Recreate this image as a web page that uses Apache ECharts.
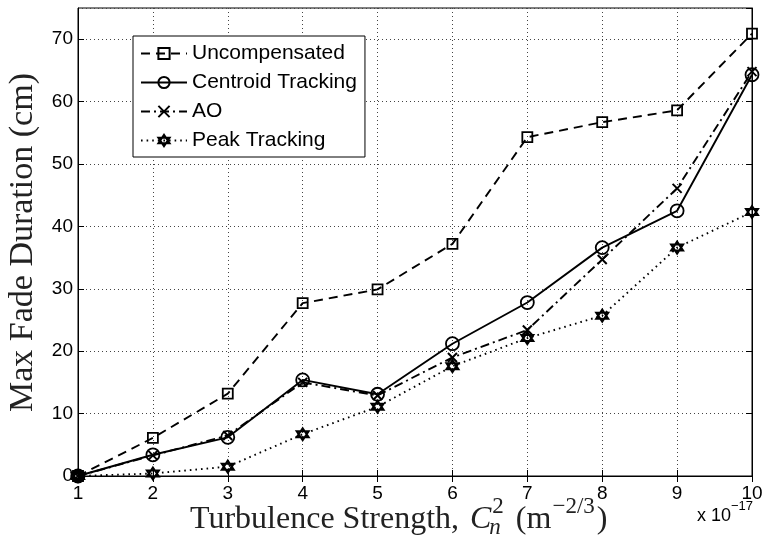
<!DOCTYPE html>
<html><head><meta charset="utf-8">
<script src="https://cdn.jsdelivr.net/npm/echarts@6/dist/echarts.min.js"></script>
<style>html,body{margin:0;padding:0;background:#fff}#c{width:766px;height:546px}</style>
</head><body><div id="c"></div>
<script>
// ---- data ----
const xValues = [1, 2, 3, 4, 5, 6, 7, 8, 9, 10];
const uncompensated = [0, 6.1, 13.2, 27.7, 29.9, 37.2, 54.3, 56.7, 58.6, 70.9];
const centroid = [0, 3.4, 6.2, 15.4, 13.1, 21.2, 27.8, 36.6, 42.5, 64.3];
const ao = [0, 3.3, 6.5, 15.0, 12.9, 19.0, 23.4, 34.7, 46.1, 64.8];
const peak = [0, 0.4, 1.5, 6.7, 11.1, 17.6, 22.1, 25.7, 36.6, 42.3];
const seriesNames = ['Uncompensated', 'Centroid Tracking', 'AO', 'Peak Tracking'];
const yTicks = [0, 10, 20, 30, 40, 50, 60, 70];

const pairs = arr => xValues.map((x, i) => [x, arr[i]]);
const chart = echarts.init(document.getElementById('c'), null, {renderer: 'canvas'});

const SANS = '"Liberation Sans", Arial, sans-serif';
const SERIF = '"Liberation Serif", "Times New Roman", serif';
const xPath = 'path://M0,0L10,10M10,0L0,10';
const hexPath = 'path://M5,0L9.33,7.5L0.67,7.5Z M5,10L0.67,2.5L9.33,2.5Z';

function mkSeries(name, data, symbol, size, dash, bw) {
  return {
    name, type: 'line', data: pairs(data), symbol, symbolSize: size,
    showSymbol: true, animation: false,
    lineStyle: {color: '#000', width: 1.9, type: dash},
    itemStyle: {color: 'transparent', borderColor: '#000', borderWidth: bw},
    emphasis: {disabled: true}
  };
}

// ---- title text pieces (positions are layout only) ----
const ctx = document.createElement('canvas').getContext('2d');
function tw(text, font) { ctx.font = font; return ctx.measureText(text).width; }
const BIG = 32, SM = 23;
const fMain = BIG + 'px ' + SERIF, fIt = 'italic ' + BIG + 'px ' + SERIF, fSm = SM + 'px ' + SERIF;
const graphics = [];
function putText(text, x, baseline, size, italic, family, color) {
  graphics.push({type: 'text', x: x, y: baseline - size * 0.34, silent: true,
    style: {text, fontSize: size, fontStyle: italic ? 'italic' : 'normal', fontFamily: family,
      fill: color || '#222', verticalAlign: 'middle', align: 'left'}});
}
const xb = 530;
let cx = 190;
const p1 = 'Turbulence Strength,';
putText(p1, cx, xb, BIG, false, SERIF); cx += tw(p1, fMain) + 11;
putText('C', cx, xb, BIG, true, SERIF); cx += tw('C', fIt) + 1;
putText('2', cx, xb - 15, SM, false, SERIF);
putText('n', cx - 3, xb + 6, SM, true, SERIF);
cx += tw('2', fSm) + 12;
putText('(m', cx, xb, BIG, false, SERIF); cx += tw('(m', fMain) + 1;
putText('\u22122/3', cx, xb - 15, SM, false, SERIF); cx += tw('\u22122/3', fSm) + 2;
putText(')', cx, xb, BIG, false, SERIF);

// exponent note
putText('x 10', 697, 522, 18, false, SANS, '#000');
putText('\u221217', 697 + tw('x 10', '18px ' + SANS), 511, 13, false, SANS, '#000');

// y title
graphics.push({type: 'text', x: 23.5, y: 242.5, rotation: Math.PI / 2, silent: true,
  style: {text: 'Max Fade Duration (cm)', fontSize: 34, fontFamily: SERIF, fill: '#222',
    align: 'center', verticalAlign: 'middle'}});

const splitStyle = {color: '#444', width: 1, type: [1, 3]};
const option = {
  animation: false,
  backgroundColor: '#fff',
  grid: {left: 78, right: 14, top: 8, bottom: 70, show: true, borderColor: '#000', borderWidth: 1, backgroundColor: 'transparent'},
  legend: {
    data: seriesNames, orient: 'vertical', left: 133, top: 36,
    padding: [7, 8, 6, 7], itemGap: 8, itemWidth: 46, itemHeight: 14,
    borderColor: '#000', borderWidth: 1, backgroundColor: '#fff', borderRadius: 0,
    selectedMode: false,
    textStyle: {fontFamily: SANS, fontSize: 21, color: '#000', lineHeight: 20}
  },
  xAxis: [
    {type: 'value', min: 1, max: 10, interval: 1, position: 'bottom',
      axisLine: {show: true, lineStyle: {color: '#000', width: 1}},
      axisTick: {show: true, inside: true, length: 6, lineStyle: {color: '#000'}},
      axisLabel: {fontFamily: SANS, fontSize: 19, color: '#000', margin: 8},
      splitLine: {show: true, lineStyle: splitStyle}},
    {type: 'value', min: 1, max: 10, interval: 1, position: 'top',
      axisLine: {show: true, lineStyle: {color: '#000', width: 1}},
      axisTick: {show: true, inside: true, length: 6, lineStyle: {color: '#000'}},
      axisLabel: {show: false}, splitLine: {show: false}}
  ],
  yAxis: [
    {type: 'value', min: 0, max: 75, interval: 10, position: 'left',
      axisLine: {show: true, lineStyle: {color: '#000', width: 1}},
      axisTick: {show: true, inside: true, length: 6, lineStyle: {color: '#000'}},
      axisLabel: {fontFamily: SANS, fontSize: 19, color: '#000', margin: 5, showMaxLabel: false,
        formatter: v => yTicks.includes(v) ? String(v) : ''},
      splitLine: {show: true, lineStyle: splitStyle}},
    {type: 'value', min: 0, max: 75, interval: 10, position: 'right',
      axisLine: {show: true, lineStyle: {color: '#000', width: 1}},
      axisTick: {show: true, inside: true, length: 6, lineStyle: {color: '#000'}},
      axisLabel: {show: false}, splitLine: {show: false}}
  ],
  series: [
    mkSeries(seriesNames[0], uncompensated, 'rect', 10, [9, 6], 1.8),
    mkSeries(seriesNames[1], centroid, 'circle', 13, 'solid', 1.8),
    mkSeries(seriesNames[2], ao, xPath, 9, [9, 4, 2, 4], 2),
    mkSeries(seriesNames[3], peak, hexPath, 12, [1.6, 4], 2)
  ],
  graphic: graphics
};
chart.setOption(option);
</script></body></html>
